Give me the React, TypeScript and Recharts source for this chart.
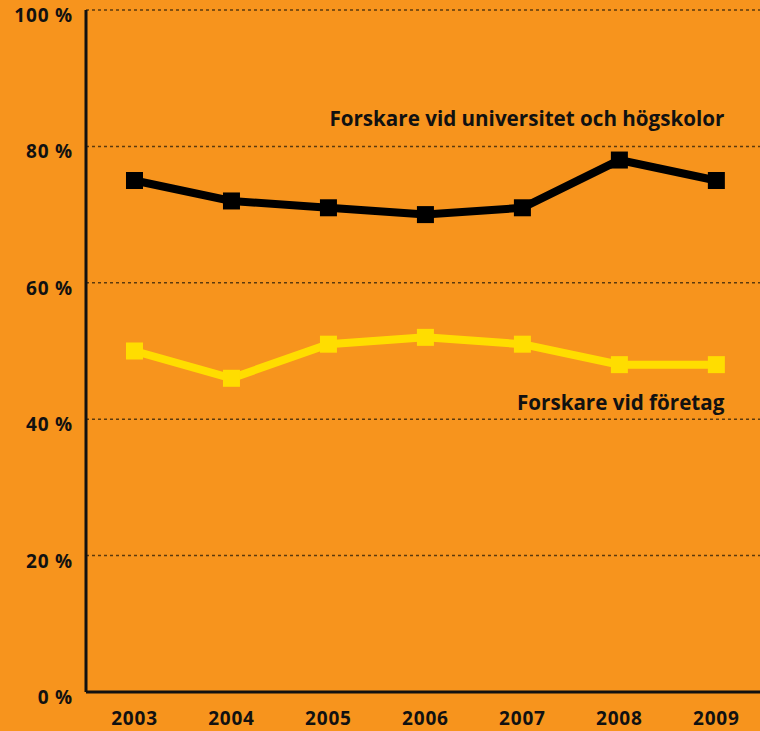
import React from "react";
import { LineChart, Line, XAxis, YAxis, CartesianGrid, ReferenceDot } from "recharts";

const years = [2003, 2004, 2005, 2006, 2007, 2008, 2009];
const universitet = [75, 72, 71, 70, 71, 78, 75];
const foretag = [50, 46, 51, 52, 51, 48, 48];
const yTicks = [0, 20, 40, 60, 80, 100];
const labelUniversitet = "Forskare vid universitet och högskolor";
const labelForetag = "Forskare vid företag";

const data = years.map((y, i) => ({ year: y, uni: universitet[i], fore: foretag[i] }));

const BG = "#F7941D";
const YELLOW = "#FFDD00";
const TICK_FONT = "'Open Sans', sans-serif";
const LABEL_FONT = "'Open Sans', sans-serif";

const Square = (color: string) => (props: any) => {
  const { cx, cy, index } = props;
  if (cx == null || cy == null) return <g key={index} />;
  const s = 17;
  return <rect key={index} x={cx - s / 2} y={cy - s / 2} width={s} height={s} fill={color} />;
};

const YTick = (props: any) => {
  const { x, y, payload } = props;
  return (
    <text x={x - 5} y={y + 12} textAnchor="end" fontFamily={TICK_FONT} fontWeight={700} fontSize={19} letterSpacing={0.8} fill="#111">
      {payload.value} %
    </text>
  );
};

const XTick = (props: any) => {
  const { x, y, payload } = props;
  return (
    <text x={x} y={y + 25} textAnchor="middle" fontFamily={TICK_FONT} fontWeight={700} fontSize={19} letterSpacing={0.8} fill="#111">
      {payload.value}
    </text>
  );
};

const SeriesLabel = (text: string) => (props: any) => {
  const vb = props.viewBox || {};
  const x = (vb.x ?? 0) + (vb.width ?? 0) / 2;
  const y = (vb.y ?? 0) + (vb.height ?? 0) / 2;
  return (
    <text x={x + 8} y={y + 7} textAnchor="end" fontFamily={LABEL_FONT} fontWeight={700} fontSize={20.6} fill="#111">
      {text}
    </text>
  );
};

export default function App() {
  return (
    <div style={{ position: "absolute", left: 0, top: 0, width: 760, height: 731, background: BG }}>
      <LineChart width={760} height={731} data={data} margin={{ top: 10, right: 0, bottom: 0, left: 0 }}>
        <CartesianGrid vertical={false} stroke="#5c3a0e" strokeDasharray="3 3" strokeWidth={1.5} />
        <XAxis
          dataKey="year"
          type="number"
          domain={[2002.5, 2009.45]}
          ticks={years}
          height={39}
          axisLine={{ stroke: "#111", strokeWidth: 3 }}
          tickLine={false}
          tick={<XTick />}
          interval={0}
        />
        <YAxis
          type="number"
          domain={[0, 100]}
          ticks={yTicks}
          width={86}
          axisLine={{ stroke: "#111", strokeWidth: 3 }}
          tickLine={false}
          tick={<YTick />}
          interval={0}
        />
        <Line
          dataKey="uni"
          stroke="#000"
          strokeWidth={8}
          dot={Square("#000")}
          activeDot={false}
          isAnimationActive={false}
          strokeLinejoin="miter"
        />
        <Line
          dataKey="fore"
          stroke={YELLOW}
          strokeWidth={8}
          dot={Square(YELLOW)}
          activeDot={false}
          isAnimationActive={false}
          strokeLinejoin="miter"
        />
        <ReferenceDot x={2009} y={84} r={0} stroke="none" fill="none" label={SeriesLabel(labelUniversitet)} />
        <ReferenceDot x={2009} y={42.4} r={0} stroke="none" fill="none" label={SeriesLabel(labelForetag)} />
      </LineChart>
    </div>
  );
}
